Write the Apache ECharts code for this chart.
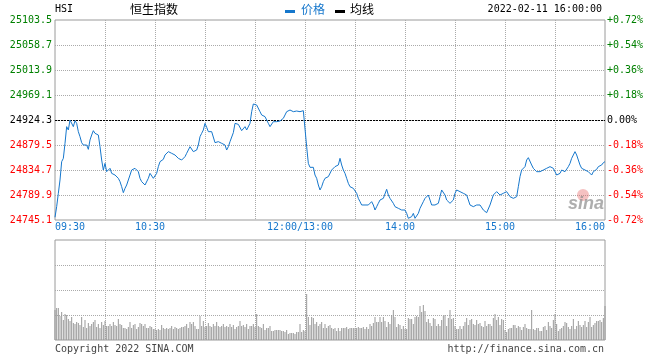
<!DOCTYPE html>
<html><head><meta charset="utf-8">
<script src="https://cdn.jsdelivr.net/npm/echarts@6/dist/echarts.min.js"></script>
<style>html,body{margin:0;padding:0;background:#fff}#c{width:660px;height:360px}</style>
</head><body><div id="c"></div>
<script>
// ---- data ----
const prevClose = 24924.3;
const priceMin = 24745.1;
const priceMax = 25103.5;

const price = [
24750.0,24769.0,24792.9,24816.8,24849.6,24855.6,24882.5,24912.4,24906.4,24924.3,
24923.1,24912.4,24923.1,24918.3,24903.4,24894.4,24883.7,24879.5,24882.5,24879.5,
24871.7,24888.5,24897.4,24905.2,24900.4,24903.4,24897.4,24876.5,24852.6,24834.7,
24846.6,24831.7,24829.9,24837.7,24828.7,24828.7,24825.7,24825.7,24819.8,24813.8,
24804.8,24794.1,24801.8,24807.8,24816.8,24825.7,24834.7,24837.7,24837.7,24834.7,
24831.7,24819.8,24813.8,24816.8,24807.8,24809.6,24819.8,24828.7,24825.7,24819.8,
24819.8,24828.7,24840.7,24849.6,24852.6,24853.8,24861.6,24864.6,24867.6,24867.6,
24864.6,24864.6,24861.6,24861.6,24855.6,24852.6,24852.6,24855.6,24858.6,24864.6,
24870.5,24876.5,24873.5,24867.6,24870.5,24870.5,24879.5,24894.4,24900.4,24906.4,
24918.3,24911.2,24903.4,24903.4,24903.4,24900.4,24883.7,24885.5,24885.5,24882.5,
24882.5,24879.5,24879.5,24870.5,24876.5,24885.5,24888.5,24901.6,24918.3,24920.1,
24916.5,24913.5,24905.2,24906.4,24912.4,24906.4,24907.6,24918.3,24939.2,24953.0,
24951.2,24951.2,24948.2,24939.2,24933.3,24933.3,24930.3,24924.3,24918.3,24912.4,
24909.4,24921.3,24924.3,24921.3,24921.3,24922.5,24924.3,24927.3,24933.3,24939.2,
24942.2,24942.2,24939.2,24939.2,24936.2,24940.4,24939.2,24939.2,24939.2,24941.0,
24941.0,24876.5,24846.6,24839.5,24837.7,24839.5,24825.7,24819.8,24807.8,24798.9,
24804.8,24813.8,24819.8,24819.8,24822.8,24819.8,24834.7,24837.7,24840.7,24843.7,
24843.7,24855.6,24843.7,24834.7,24828.7,24819.8,24810.8,24804.8,24804.8,24801.8,
24798.9,24792.9,24783.9,24778.0,24772.0,24769.0,24772.0,24772.0,24772.0,24775.0,
24778.0,24772.0,24763.0,24769.0,24775.0,24780.9,24780.9,24783.9,24786.9,24800.1,
24789.9,24783.9,24786.9,24775.0,24769.0,24769.0,24766.0,24763.0,24763.0,24760.0,
24763.0,24757.0,24748.1,24746.3,24751.1,24757.0,24748.1,24751.1,24757.0,24766.0,
24772.0,24778.0,24783.9,24786.9,24789.9,24780.9,24772.0,24775.0,24772.0,24772.0,
24775.0,24786.9,24798.9,24798.9,24789.9,24780.9,24778.0,24775.0,24778.0,24780.9,
24792.9,24798.9,24798.9,24795.9,24792.9,24792.9,24792.9,24789.9,24786.9,24772.0,
24772.0,24769.0,24772.0,24772.0,24769.0,24772.0,24769.0,24763.0,24760.0,24758.2,
24760.0,24772.0,24780.9,24789.9,24789.9,24795.9,24798.9,24789.9,24786.9,24792.9,
24789.9,24795.9,24792.9,24786.9,24785.7,24783.9,24786.9,24786.9,24804.8,24822.8,
24834.7,24834.7,24840.7,24852.6,24856.8,24855.6,24843.7,24837.7,24834.7,24831.7,
24834.7,24831.7,24831.7,24834.7,24836.5,24837.7,24837.7,24840.7,24843.7,24837.7,
24834.7,24825.7,24828.7,24828.7,24834.7,24837.7,24831.7,24831.7,24840.7,24846.6,
24855.6,24861.6,24867.6,24861.6,24852.6,24843.7,24837.7,24834.7,24834.7,24834.7,
24831.7,24831.7,24825.7,24831.7,24834.7,24835.9,24840.7,24843.7,24843.7,24847.8,
24849.6
];

const volume = [
30,32,32,24,28,20,26,25,21,19,
23,17,16,18,17,15,23,13,20,12,
17,14,16,18,20,13,16,12,18,15,
19,14,14,16,14,18,15,14,21,16,
15,12,12,11,13,18,12,15,16,11,
13,17,16,14,16,12,12,14,13,11,
11,10,11,10,15,12,11,12,11,12,
14,11,13,12,11,12,13,13,14,16,
12,18,16,18,14,11,11,24,14,19,
13,14,17,14,13,16,14,18,14,13,
14,16,13,14,13,16,13,15,11,13,
14,19,14,15,13,16,11,14,14,16,
13,26,14,13,12,16,10,12,12,14,
9,9,10,10,10,10,9,9,8,10,
6,7,7,7,6,8,8,16,8,10,
9,46,23,15,23,22,16,18,14,16,
18,12,16,12,14,15,12,11,12,9,
12,9,12,12,12,13,11,12,12,12,
12,12,13,12,12,13,11,13,11,16,
14,17,23,18,18,23,18,23,19,13,
18,16,25,30,23,13,16,15,11,14,
11,11,22,21,21,16,23,24,23,34,
28,35,29,18,21,17,14,22,21,14,
16,14,20,24,25,14,22,30,21,22,
14,11,11,14,11,14,18,22,15,20,
21,16,15,20,16,17,14,13,19,14,
16,16,14,22,26,20,23,15,21,20,
10,8,11,12,12,15,15,12,14,13,
10,13,16,12,11,11,30,11,10,12,
12,9,9,13,14,10,18,14,12,20,
26,16,9,11,12,14,18,17,13,11,
14,21,11,14,19,15,13,15,19,13,
18,23,13,15,17,19,19,20,18,22,
34
];

const xTickPos  = [0, 60, 150, 210, 270, 330];
const xTickText = ['09:30', '10:30', '12:00/13:00', '14:00', '15:00', '16:00'];
const leftTickLabels  = ['24745.1','24789.9','24834.7','24879.5','24924.3','24969.1','25013.9','25058.7','25103.5'];
const rightTickLabels = ['-0.72%','-0.54%','-0.36%','-0.18%','0.00%','+0.18%','+0.36%','+0.54%','+0.72%'];
const symbolText = 'HSI';
const nameText = '恒生指数';
const legendNames = ['价格', '均线'];
const dateText = '2022-02-11 16:00:00';
const copyrightText = 'Copyright 2022 SINA.COM';
const urlText = 'http://finance.sina.com.cn';

// ---- styles ----
const MONO = "'DejaVu Sans Mono', monospace";
const CJK = "'Noto Sans CJK SC', sans-serif";
const BLUE = '#1677cc';
const GRID_LINE = { show: true, showMinLine: false, showMaxLine: false, lineStyle: { color: '#aaaaaa', width: 1, type: [1, 1] } };
const tickColor = (v) => { const n = Number(v); return n < 4 ? '#ff0000' : (n === 4 ? '#000000' : '#008000'); };

const chart = echarts.init(document.getElementById('c'), null, { renderer: 'canvas' });

const option = {
  animation: false,
  backgroundColor: '#ffffff',
  grid: [
    { left: 55, top: 20, width: 550, height: 200, show: true, borderColor: '#9a9a9a', borderWidth: 1, containLabel: false, outerBoundsMode: 'none' },
    { left: 55, top: 240, width: 550, height: 100, show: true, borderColor: '#9a9a9a', borderWidth: 1, containLabel: false, outerBoundsMode: 'none' }
  ],
  xAxis: [
    {
      type: 'value', gridIndex: 0, min: 0, max: 330, interval: 30,
      axisLine: { show: false }, axisTick: { show: false },
      splitLine: GRID_LINE,
      axisLabel: {
        show: true, margin: 2, fontFamily: MONO, fontSize: 10, color: BLUE,
        showMinLabel: true, showMaxLabel: true,
        alignMinLabel: 'left', alignMaxLabel: 'right',
        formatter: (v) => {
          const k = xTickPos.indexOf(Math.round(v));
          if (k < 0) return '';
          if (k === 0 || k === xTickPos.length - 1) return xTickText[k];
          return '{c|' + xTickText[k] + '}';
        },
        rich: { c: { fontFamily: MONO, fontSize: 10, color: BLUE, padding: [0, 10, 0, 0] } }
      }
    },
    {
      type: 'value', gridIndex: 1, min: 0, max: 330, interval: 30,
      axisLine: { show: false }, axisTick: { show: false }, axisLabel: { show: false },
      splitLine: GRID_LINE
    }
  ],
  yAxis: [
    { type: 'value', gridIndex: 0, min: priceMin, max: priceMax, show: false, splitLine: { show: false } },
    {
      type: 'value', gridIndex: 0, position: 'left', min: 0, max: 8, interval: 1,
      axisLine: { show: false }, axisTick: { show: false },
      splitLine: GRID_LINE,
      axisLabel: {
        margin: 3, fontFamily: MONO, fontSize: 10, showMinLabel: true, showMaxLabel: true,
        verticalAlign: 'middle', padding: [0, 0, 9, 0],
        color: tickColor, formatter: (v) => leftTickLabels[Math.round(v)]
      }
    },
    {
      type: 'value', gridIndex: 0, position: 'right', min: 0, max: 8, interval: 1,
      axisLine: { show: false }, axisTick: { show: false }, splitLine: { show: false },
      axisLabel: {
        margin: 2, fontFamily: MONO, fontSize: 10, showMinLabel: true, showMaxLabel: true,
        verticalAlign: 'middle', padding: [0, 0, 9, 0],
        color: tickColor, formatter: (v) => rightTickLabels[Math.round(v)]
      }
    },
    {
      type: 'value', gridIndex: 1, min: 0, max: 100, interval: 25,
      axisLine: { show: false }, axisTick: { show: false }, axisLabel: { show: false },
      splitLine: GRID_LINE
    }
  ],
  series: [
    {
      name: legendNames[0], type: 'line', xAxisIndex: 0, yAxisIndex: 0,
      data: price.map((v, i) => [i, v]),
      showSymbol: false, symbol: 'none', smooth: false,
      lineStyle: { color: BLUE, width: 1 }, z: 5,
      markLine: {
        silent: true, symbol: 'none', label: { show: false },
        lineStyle: { color: '#000000', width: 1, type: [2, 1] },
        data: [{ yAxis: prevClose }]
      }
    },
    {
      name: 'volume', type: 'bar', xAxisIndex: 1, yAxisIndex: 3,
      data: volume.map((v, i) => [i, v]),
      barWidth: 1, itemStyle: { color: '#999999' }, z: 3
    }
  ],
  graphic: [
    { type: 'text', left: 55, top: 4, style: { text: symbolText, font: '10px ' + MONO, fill: '#000' } },
    { type: 'text', left: 130, top: 3, style: { text: nameText, font: '12px ' + CJK, fill: '#000' } },
    { type: 'rect', shape: { x: 285, y: 10, width: 10, height: 3 }, style: { fill: BLUE } },
    { type: 'text', left: 301, top: 3, style: { text: legendNames[0], font: '12px ' + CJK, fill: BLUE } },
    { type: 'rect', shape: { x: 335, y: 10, width: 10, height: 3 }, style: { fill: '#000' } },
    { type: 'text', left: 350, top: 3, style: { text: legendNames[1], font: '12px ' + CJK, fill: '#000' } },
    { type: 'text', right: 58, top: 4, style: { text: dateText, font: '10px ' + MONO, fill: '#000' } },
    { type: 'text', left: 55, top: 344, style: { text: copyrightText, font: '10px ' + MONO, fill: '#444' } },
    { type: 'text', right: 56, top: 344, style: { text: urlText, font: '10px ' + MONO, fill: '#444' } },
    { type: 'circle', shape: { cx: 583, cy: 195, r: 6 }, style: { fill: 'rgba(230,100,100,0.4)' }, z: 1 },
    { type: 'text', left: 568, top: 195, style: { text: 'sina', font: 'italic bold 18px "Liberation Sans", sans-serif', fill: 'rgba(140,140,140,0.7)' }, z: 1 }
  ]
};
chart.setOption(option);
</script>
</body></html>
